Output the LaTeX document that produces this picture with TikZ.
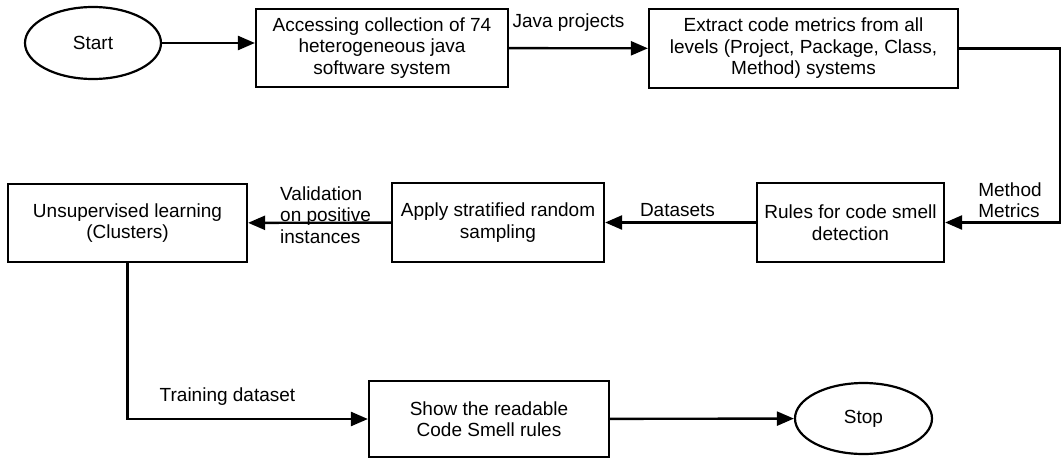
\documentclass[tikz,border=0pt]{standalone}
\usepackage{fontspec}
\setmainfont{Liberation Sans}
\usetikzlibrary{arrows.meta,shapes.geometric}
\begin{document}
\begin{tikzpicture}[x=1pt, y=-1pt,
    every node/.style={font=\fontsize{19}{21.5}\selectfont},
    stepbox/.style={draw, line width=2.2pt, rectangle, align=center, inner sep=2pt},
    termnode/.style={draw, line width=2.2pt, ellipse, inner sep=0pt},
    flow/.style={line width=2.4pt, -{Triangle[length=17pt, width=14pt]}},
    lbl/.style={inner sep=0pt}]
    \useasboundingbox (0,0) rectangle (1063,458);

    % Top Row
    \node[termnode, minimum width=136, minimum height=72] (start) at (93,43) {Start};
    \node[stepbox, minimum width=252, minimum height=78] (access) at (382,48)
        {Accessing collection of 74\\heterogeneous java\\software system};
    \node[stepbox, minimum width=309, minimum height=79] (extract) at (803.5,48.5)
        {Extract code metrics from all\\levels (Project, Package, Class,\\Method) systems};

    % Middle Row
    \node[stepbox, minimum width=187, minimum height=79] (rules) at (850.5,222.5)
        {Rules for code smell\\detection};
    \node[stepbox, minimum width=212, minimum height=79] (apply) at (498,222.5)
        {Apply stratified random\\sampling};
    \node[stepbox, minimum width=239, minimum height=78] (unsup) at (127.5,223)
        {Unsupervised learning\\(Clusters)};

    % Bottom Row
    \node[stepbox, minimum width=240, minimum height=76] (show) at (489,419)
        {Show the readable\\Code Smell rules};
    \node[termnode, minimum width=137, minimum height=71] (stop) at (863.5,418.5) {Stop};

    % Connectors
    \coordinate (bend) at (1060,0);
    \draw[flow] (start) -- (start -| access.west);
    \draw[flow] (access) -- (extract);
    \draw[flow] (extract.east) -| (bend |- rules.east) -- (rules.east);
    \draw[flow] (rules) -- (apply);
    \draw[flow] (apply) -- (unsup);
    \draw[flow] (unsup.south) |- (show.west);
    \draw[flow] (show) -- (stop);

    % Edge labels
    \node[lbl] (javalbl) at (568.5,23) {Java projects};
    \node[lbl, align=left] (metriclbl) at (1010,200) {Method\\Metrics};
    \node[lbl] (datalbl) at (677.5,210) {Datasets};
    \node[lbl, align=left, anchor=west] (validlbl) at (280,215)
        {Validation\\on positive\\instances};
    \node[lbl] (trainlbl) at (227.5,397) {Training dataset};

\end{tikzpicture}
\end{document}
